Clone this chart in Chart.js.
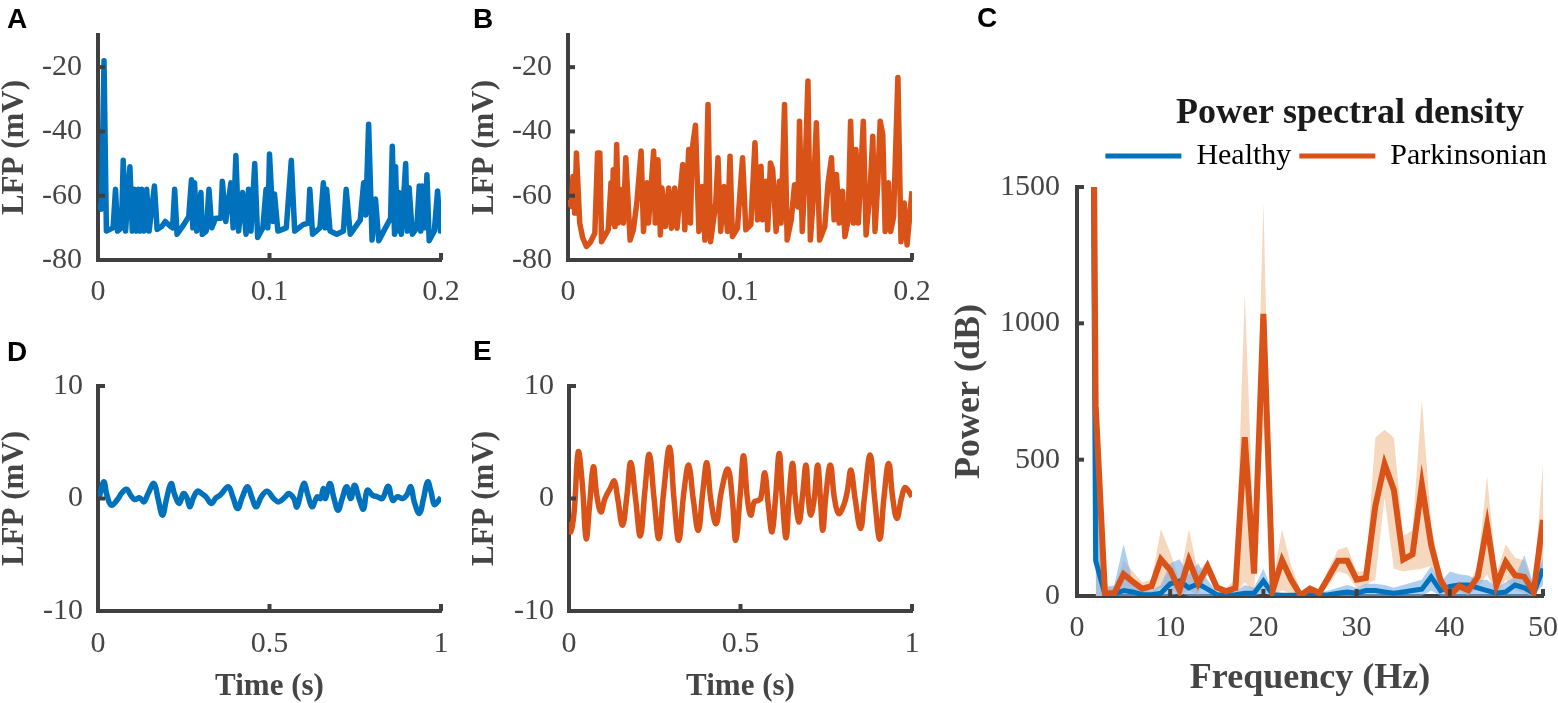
<!DOCTYPE html>
<html lang="en">
<head>
<meta charset="utf-8">
<title>LFP traces and power spectral density</title>
<script src="https://cdn.jsdelivr.net/npm/chart.js@4.4.1/dist/chart.umd.min.js"></script>
<style>
  html, body { margin: 0; padding: 0; background: #fff; overflow: hidden; }
  #fig { position: relative; width: 1558px; height: 703px; overflow: hidden; background: #fff; }
  #fig canvas { position: absolute; }
  .tag { position: absolute; font: bold 28px Arial, 'Liberation Sans', sans-serif; color: #000; line-height: 1; }
</style>
</head>
<body>
<div id="fig">
  <canvas id="cA" width="474" height="330" style="left:-4px;top:0px"></canvas>
  <canvas id="cB" width="474" height="330" style="left:466px;top:0px"></canvas>
  <canvas id="cD" width="474" height="393" style="left:-4px;top:320px"></canvas>
  <canvas id="cE" width="474" height="393" style="left:466px;top:320px"></canvas>
  <canvas id="cC" width="820" height="713" style="left:940px;top:0px"></canvas>
  <div class="tag" style="left:7px;top:5px">A</div>
  <div class="tag" style="left:473px;top:5px">B</div>
  <div class="tag" style="left:977px;top:4px">C</div>
  <div class="tag" style="left:7px;top:338px">D</div>
  <div class="tag" style="left:473px;top:337px">E</div>
</div>
<script>
// ---- data ----
// A: healthy LFP, first 0.2 s (t in s, mV)
const tA = [0, 0.0020, 0.0035, 0.0049, 0.0088, 0.0102, 0.0114, 0.0137, 0.0147, 0.0161, 0.0176, 0.0186, 0.0200, 0.0212, 0.0224, 0.0235, 0.0245, 0.0255, 0.0269, 0.0284, 0.0298, 0.0329, 0.0345, 0.0373, 0.0392, 0.0422, 0.0435, 0.0447, 0.0461, 0.0500, 0.0529, 0.0545, 0.0553, 0.0563, 0.0576, 0.0600, 0.0608, 0.0631, 0.0647, 0.0663, 0.0686, 0.0716, 0.0725, 0.0745, 0.0775, 0.0788, 0.0804, 0.0820, 0.0843, 0.0863, 0.0878, 0.0892, 0.0914, 0.0931, 0.0961, 0.0980, 0.0990, 0.1000, 0.1020, 0.1029, 0.1049, 0.1098, 0.1127, 0.1147, 0.1196, 0.1225, 0.1235, 0.1251, 0.1294, 0.1314, 0.1325, 0.1333, 0.1353, 0.1392, 0.1431, 0.1447, 0.1471, 0.1510, 0.1529, 0.1549, 0.1561, 0.1578, 0.1598, 0.1618, 0.1637, 0.1676, 0.1706, 0.1716, 0.1729, 0.1735, 0.1745, 0.1755, 0.1769, 0.1794, 0.1804, 0.1814, 0.1833, 0.1859, 0.1873, 0.1882, 0.1892, 0.1906, 0.1918, 0.1931, 0.1961, 0.1980, 0.1996, 0.2000];
const vA = [-62.3, -64.2, -18, -71, -70, -58, -71, -70, -49, -71, -58, -51, -71, -58, -71, -58, -71, -58, -71, -58, -71, -57, -70.5, -69.5, -68, -69.5, -70, -58, -72, -69, -66.5, -55, -70, -56, -71, -59, -72, -71, -58, -70, -67, -67, -55.5, -68, -56, -70, -47.5, -71, -59, -72, -58, -71, -50, -73, -70, -58, -70, -47, -68, -59.5, -71, -70, -49, -71, -69, -68.5, -58, -72, -70, -56, -70, -58, -71, -72, -71, -58, -72, -69, -67.6, -56, -66, -37.8, -73.8, -61, -74, -70, -67, -44.6, -72, -51, -71, -59, -72, -50, -71, -57.5, -72, -70, -57, -71, -57, -70, -53.5, -74, -71, -58.5, -71, -70];

// B: parkinsonian LFP, first 0.2 s
const tB = [0, 0.0020, 0.0029, 0.0039, 0.0049, 0.0068, 0.0085, 0.0107, 0.0130, 0.0156, 0.0172, 0.0185, 0.0195, 0.0234, 0.0250, 0.0257, 0.0263, 0.0273, 0.0283, 0.0293, 0.0308, 0.0322, 0.0336, 0.0361, 0.0380, 0.0400, 0.0425, 0.0439, 0.0459, 0.0468, 0.0498, 0.0507, 0.0523, 0.0537, 0.0546, 0.0566, 0.0585, 0.0601, 0.0620, 0.0634, 0.0654, 0.0667, 0.0679, 0.0702, 0.0712, 0.0722, 0.0741, 0.0761, 0.0780, 0.0796, 0.0814, 0.0829, 0.0859, 0.0872, 0.0888, 0.0907, 0.0927, 0.0942, 0.0956, 0.0985, 0.1015, 0.1034, 0.1063, 0.1087, 0.1102, 0.1122, 0.1132, 0.1151, 0.1161, 0.1177, 0.1190, 0.1210, 0.1229, 0.1239, 0.1259, 0.1274, 0.1298, 0.1317, 0.1337, 0.1346, 0.1362, 0.1376, 0.1395, 0.1409, 0.1424, 0.1444, 0.1463, 0.1493, 0.1512, 0.1532, 0.1547, 0.1561, 0.1577, 0.1596, 0.1610, 0.1629, 0.1643, 0.1659, 0.1674, 0.1688, 0.1717, 0.1733, 0.1756, 0.1772, 0.1785, 0.1801, 0.1815, 0.1830, 0.1844, 0.1863, 0.1876, 0.1893, 0.1918, 0.1936, 0.1955, 0.1971, 0.2000];
const vB = [-61.3, -63.3, -54.0, -65.4, -46.7, -68.5, -73.0, -75.8, -74.5, -71.7, -46.7, -46.7, -74.3, -70.6, -56.0, -68.5, -51.9, -69.6, -44.1, -68.5, -58.1, -68.5, -48.2, -73.8, -70.6, -62.3, -46.1, -71.1, -56.0, -68.5, -46.1, -68.5, -48.8, -72.2, -57.6, -69.6, -57.6, -70.1, -57.6, -70.1, -58.1, -50.3, -70.6, -45.6, -68.5, -45.6, -38.1, -71.1, -57.1, -73.8, -31.6, -74.3, -62.3, -48.2, -71.1, -57.1, -71.1, -47.7, -72.7, -70.1, -48.2, -70.6, -69.0, -43.5, -67.5, -50.8, -67.5, -55.5, -70.6, -49.8, -51.9, -71.1, -55.5, -68.5, -31.6, -73.8, -67.5, -56.6, -63.5, -36.8, -71.1, -56.0, -24.3, -73.8, -62.3, -37.3, -73.8, -69.6, -56.0, -48.2, -67.5, -53.4, -68.5, -58.6, -72.7, -67.5, -36.8, -68.5, -45.6, -68.5, -36.8, -72.2, -58.6, -41.5, -71.1, -56.0, -36.8, -40.9, -71.1, -56.0, -71.1, -66.5, -23.2, -74.3, -62.3, -75.3, -58.6];

// D: healthy filtered LFP, 1 s
const tD = [0, 0.005, 0.017, 0.026, 0.039, 0.059, 0.068, 0.083, 0.095, 0.107, 0.122, 0.134, 0.146, 0.163, 0.176, 0.188, 0.2, 0.213, 0.224, 0.237, 0.249, 0.259, 0.268, 0.278, 0.29, 0.302, 0.315, 0.33, 0.344, 0.356, 0.38, 0.393, 0.407, 0.421, 0.436, 0.449, 0.461, 0.476, 0.493, 0.512, 0.527, 0.546, 0.556, 0.571, 0.58, 0.6, 0.612, 0.624, 0.639, 0.649, 0.657, 0.663, 0.676, 0.688, 0.7, 0.712, 0.725, 0.737, 0.748, 0.761, 0.774, 0.785, 0.8, 0.815, 0.829, 0.846, 0.859, 0.873, 0.888, 0.9, 0.912, 0.922, 0.937, 0.949, 0.961, 0.971, 0.98, 0.99, 1.0];
const vD = [0, 0.30, 1.48, 0.30, -0.59, 0, 0.44, 0.83, 0.30, -0.09, 0.06, -0.30, 0.44, 1.33, -0.15, -1.48, 0, 1.33, 0.30, -0.44, 0.44, 0.06, -0.74, 0.06, 0.65, 0.44, 0.15, -0.44, 0.06, 0.30, 1.04, 0.15, -0.89, 0.15, 1.04, 0.06, -0.74, 0.15, 0.65, 0, -0.30, 0.15, 0.44, 0, -0.74, 1.33, 0.30, -0.74, 0.15, 0, 0.89, 0, 1.33, 0, -1.04, 0, 1.04, 0, 1.18, 0, -0.95, 0.74, 0.30, 0.15, 0, 1.09, -0.15, 0.15, 0, 0.30, 1.04, -0.30, -1.33, 0, 1.48, 0.59, -0.53, -0.30, 0.09];

// E: parkinsonian filtered LFP, 1 s
const tE = [0, 0.005, 0.015, 0.027, 0.039, 0.050, 0.060, 0.071, 0.081, 0.093, 0.105, 0.120, 0.132, 0.142, 0.156, 0.169, 0.180, 0.194, 0.208, 0.221, 0.234, 0.248, 0.262, 0.276, 0.293, 0.306, 0.320, 0.335, 0.349, 0.362, 0.377, 0.390, 0.402, 0.413, 0.429, 0.444, 0.463, 0.476, 0.486, 0.499, 0.509, 0.520, 0.530, 0.540, 0.551, 0.559, 0.571, 0.581, 0.592, 0.602, 0.613, 0.622, 0.633, 0.642, 0.652, 0.660, 0.671, 0.681, 0.691, 0.698, 0.705, 0.715, 0.725, 0.733, 0.740, 0.749, 0.762, 0.774, 0.786, 0.801, 0.811, 0.822, 0.834, 0.850, 0.861, 0.878, 0.891, 0.906, 0.918, 0.932, 0.944, 0.956, 0.969, 0.979, 0.988, 1.0];
const vE = [-2.08, -2.97, -1.19, 4.15, 1.19, -3.56, -0.59, 2.82, 0.30, -1.19, 0, 0.89, 1.54, 0, -2.37, 0.30, 3.20, 0, -3.32, 0.59, 3.92, 0, -3.56, 0.59, 4.54, 0, -3.71, 0.59, 2.97, 0, -2.82, 0.59, 3.18, 0, -2.23, 0.59, 2.61, 0, -3.71, 0.30, 3.80, 0, -1.48, -0.30, -0.18, 0, 2.28, -0.59, -2.97, 0, 4.01, 0, -3.50, 0.30, 3.12, 0, -2.08, 0.30, 2.97, 0, -1.48, 0, 2.97, 0, -2.82, 0.30, 2.97, 0, -1.34, -0.59, 0.59, 2.52, 0, -2.67, 0, 3.86, 0, -3.62, 0, 3.12, 0, -1.78, 0, 0.95, 0.74, 0.15];

// C: power spectral density (Hz, dB); the 1 Hz values run off the top of the axis
const freqC = [1, 2, 3, 4, 5, 6, 7, 8, 9, 10, 11, 12, 13, 14, 15, 16, 17, 18, 19, 20, 21, 22, 23, 24, 25, 26, 27, 28, 29, 30, 31, 32, 33, 34, 35, 36, 37, 38, 39, 40, 41, 42, 43, 44, 45, 46, 47, 48, 49, 50];
const psdPark = [5700, 700, 10, 10, 80, 52, 27, 36, 134, 95, 21, 131, 45, 109, 31, 17, 29, 582, 82, 1035, 21, 131, 58, 2, 27, 11, 70, 129, 129, 60, 66, 328, 484, 389, 134, 153, 408, 187, 58, 2, 36, 21, 70, 260, 39, 125, 76, 70, 15, 279];
const psdHealthy = [6000, 130, 5, 8, 20, 15, 5, 5, 10, 45, 55, 30, 45, 25, 5, 3, 5, 10, 10, 55, 5, 3, 3, 3, 5, 3, 5, 10, 15, 10, 20, 20, 15, 10, 15, 20, 25, 70, 20, 35, 40, 40, 30, 20, 10, 15, 40, 30, 10, 100];
// shaded spread, 2..50 Hz
const freqBand = [2, 3, 4, 5, 6, 7, 8, 9, 10, 11, 12, 13, 14, 15, 16, 17, 18, 19, 20, 21, 22, 23, 24, 25, 26, 27, 28, 29, 30, 31, 32, 33, 34, 35, 36, 37, 38, 39, 40, 41, 42, 43, 44, 45, 46, 47, 48, 49, 50];
const parkHigh = [760, 40, 30, 130, 90, 50, 60, 245, 160, 60, 245, 90, 130, 45, 30, 60, 1110, 200, 1440, 50, 245, 110, 20, 40, 25, 100, 170, 180, 90, 90, 580, 610, 580, 220, 240, 720, 260, 90, 20, 55, 40, 110, 440, 80, 190, 140, 130, 40, 480];
const parkLow = [0, 0, 0, 30, 20, 5, 10, 30, 30, 0, 20, 5, 80, 10, 5, 5, 50, 10, 630, 0, 20, 10, 0, 10, 0, 40, 90, 80, 30, 40, 60, 360, 100, 90, 95, 100, 110, 25, 0, 15, 5, 30, 80, 5, 60, 20, 10, 0, 80];
const healthyHigh = [700, 30, 40, 190, 50, 20, 20, 40, 120, 135, 80, 120, 60, 15, 10, 15, 40, 30, 100, 15, 10, 10, 10, 15, 10, 20, 30, 40, 30, 45, 45, 40, 30, 40, 50, 60, 110, 50, 90, 80, 75, 60, 60, 30, 50, 70, 150, 40, 140];
const healthyLow = [0, 0, 0, 0, 0, 0, 0, 0, 0, 10, 0, 0, 0, 0, 0, 0, 0, 0, 10, 0, 0, 0, 0, 0, 0, 0, 0, 0, 0, 0, 0, 0, 0, 0, 0, 0, 20, 0, 0, 0, 0, 0, 0, 0, 0, 0, 0, 0, 40];

const ticksAB_x = [0, 0.1, 0.2];
const ticksAB_y = [-80, -60, -40, -20];
const ticksDE_x = [0, 0.5, 1];
const ticksDE_y = [-10, 0, 10];
const ticksC_x = [0, 10, 20, 30, 40, 50];
const ticksC_y = [0, 500, 1000, 1500];
const legendNames = ['Healthy', 'Parkinsonian'];

// ---- styling ----
const serif = "'Times New Roman', 'Liberation Serif', serif";
const axisColor = '#404040';
const textColor = '#454545';
const blue = '#0072BD';
const orange = '#D95319';

const pts = (xs, ys) => xs.map((x, i) => ({ x: x, y: ys[i] }));

// MATLAB style tick marks that point into the plot
const inTicks = {
  id: 'inTicks',
  afterDraw(chart) {
    const { ctx, chartArea: a, scales } = chart;
    ctx.save();
    ctx.strokeStyle = axisColor;
    ctx.lineWidth = 4;
    ['x', 'y'].forEach(id => {
      const s = scales[id];
      s.ticks.forEach((t, i) => {
        if (i === 0) return;
        const p = s.getPixelForValue(t.value);
        ctx.beginPath();
        if (id === 'x') { ctx.moveTo(p, a.bottom); ctx.lineTo(p, a.bottom - 7); }
        else { ctx.moveTo(a.left, p); ctx.lineTo(a.left + 7, p); }
        ctx.stroke();
      });
    });
    ctx.restore();
  }
};

// nudge the legend row a little to the right, where the original sits
const legendNudge = {
  id: 'legendNudge',
  afterLayout(chart) {
    if (chart.legend) { chart.legend.left += 12; chart.legend.right += 12; }
  }
};

function axis(min, max, ticks, size, pad, title) {
  return {
    type: 'linear', min: min, max: max,
    afterBuildTicks: s => { s.ticks = ticks.map(v => ({ value: v })); },
    afterFit: s => {
      if (s.isHorizontal()) { s.height = size; s.paddingLeft = 0; s.paddingRight = 0; }
      else { s.width = size; }
    },
    grid: { display: true, drawOnChartArea: false, drawTicks: false },
    border: { display: true, color: axisColor, width: 4 },
    ticks: { padding: pad, color: textColor, autoSkip: false, maxRotation: 0,
             font: { family: serif, size: 30 }, callback: v => String(v) },
    title: title
  };
}

function axTitle(text, size, padding) {
  return { display: true, text: text, color: textColor, padding: padding,
           font: { family: serif, size: size, weight: 'bold', lineHeight: 1.2 } };
}

function tracePanel(id, t, v, color, o) {
  new Chart(document.getElementById(id), {
    type: 'line',
    data: { datasets: [{ data: pts(t, v), borderColor: color, borderWidth: 5.5, pointRadius: 0,
                         tension: o.tension, fill: false, borderJoinStyle: 'round' }] },
    options: {
      responsive: false, animation: false, events: [],
      layout: { padding: { left: 0, top: o.padTop, right: o.padRight, bottom: 0 } },
      plugins: { legend: { display: false }, tooltip: { enabled: false } },
      scales: {
        x: axis(o.x[0], o.x[1], o.xTicks, o.xHeight, o.xPad,
                o.xTitle ? axTitle(o.xTitle, 31, { top: 0, bottom: o.xTitlePad }) : { display: false }),
        y: axis(o.y[0], o.y[1], o.yTicks, o.yWidth, o.yPad, axTitle('LFP (mV)', 31, { top: 0, bottom: 0 }))
      }
    },
    plugins: [inTicks]
  });
}

const top2 = { x: [0, 0.2], y: [-80, -10], xTicks: ticksAB_x, yTicks: ticksAB_y,
               padTop: 35, xHeight: 70, xPad: 14, yPad: 16, tension: 0 };
const bot2 = { x: [0, 1], y: [-10, 10], xTicks: ticksDE_x, yTicks: ticksDE_y,
               padTop: 66, xHeight: 102, xPad: 15, yPad: 15, tension: 0.4,
               xTitle: 'Time (s)', xTitlePad: 7 };

tracePanel('cA', tA, vA, blue, Object.assign({}, top2, { yWidth: 102, padRight: 29 }));
tracePanel('cB', tB, vB, orange, Object.assign({}, top2, { yWidth: 102, padRight: 28 }));
tracePanel('cD', tD, vD, blue, Object.assign({}, bot2, { yWidth: 102, padRight: 29 }));
tracePanel('cE', tE, vE, orange, Object.assign({}, bot2, { yWidth: 103, padRight: 28 }));

// ---- panel C ----
const xC = axis(0, 50, ticksC_x, 117, 14, axTitle('Frequency (Hz)', 36, { top: 0, bottom: 13 }));
xC.afterFit = s => { s.height = 117; s.paddingLeft = 0; s.paddingRight = 217; };

new Chart(document.getElementById('cC'), {
  type: 'line',
  data: {
    datasets: [
      { label: 'Parkinsonian', data: pts(freqC, psdPark), borderColor: orange, backgroundColor: orange,
        borderWidth: 6, pointRadius: 0, tension: 0, fill: false },
      { label: 'Healthy', data: pts(freqC, psdHealthy), borderColor: blue, backgroundColor: blue,
        borderWidth: 5, pointRadius: 0, tension: 0, fill: false },
      { label: 'Healthy spread', data: pts(freqBand, healthyHigh), borderColor: 'rgba(0,0,0,0)',
        borderWidth: 0, pointRadius: 0, tension: 0, fill: '+1', backgroundColor: 'rgba(120,175,230,0.6)' },
      { label: 'Healthy low', data: pts(freqBand, healthyLow), borderColor: 'rgba(0,0,0,0)',
        borderWidth: 0, pointRadius: 0, tension: 0, fill: false },
      { label: 'Parkinsonian spread', data: pts(freqBand, parkHigh), borderColor: 'rgba(0,0,0,0)',
        borderWidth: 0, pointRadius: 0, tension: 0, fill: '+1', backgroundColor: 'rgb(246,216,190)' },
      { label: 'Parkinsonian low', data: pts(freqBand, parkLow), borderColor: 'rgba(0,0,0,0)',
        borderWidth: 0, pointRadius: 0, tension: 0, fill: false }
    ]
  },
  options: {
    responsive: false, animation: false, events: [],
    layout: { padding: 0 },
    plugins: {
      tooltip: { enabled: false },
      title: { display: true, text: 'Power spectral density', color: '#1a1a1a',
               padding: { top: 96, bottom: 1 },
               font: { family: serif, size: 36, weight: 'bold', lineHeight: 1 } },
      legend: {
        display: true, position: 'top', align: 'end', fullSize: false,
        labels: {
          boxWidth: 76, boxHeight: 5, padding: 8, color: '#000',
          font: { family: serif, size: 30 },
          generateLabels: chart => Chart.defaults.plugins.legend.labels.generateLabels(chart)
            .filter(it => legendNames.includes(it.text))
            .map(it => Object.assign(it, { fillStyle: it.strokeStyle, lineWidth: 0 }))
            .sort((a, b) => legendNames.indexOf(a.text) - legendNames.indexOf(b.text))
        }
      }
    },
    scales: {
      x: xC,
      xTop: { type: 'linear', position: 'top', display: true,
              afterFit: s => { s.height = 6; s.paddingLeft = 0; s.paddingRight = 0; },
              grid: { display: false }, border: { display: false }, ticks: { display: false } },
      y: axis(0, 1500, ticksC_y, 137, 17, axTitle('Power (dB)', 36, { top: 8, bottom: 0 }))
    }
  },
  plugins: [inTicks, legendNudge]
});
</script>
</body>
</html>
